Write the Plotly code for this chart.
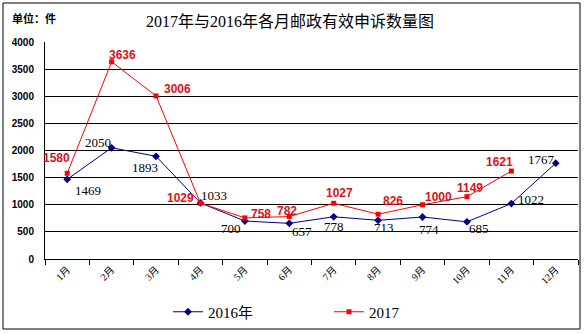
import plotly.graph_objects as go

months = ["1月", "2月", "3月", "4月", "5月", "6月", "7月", "8月", "9月", "10月", "11月", "12月"]
v2016 = [1469, 2050, 1893, 1033, 700, 657, 778, 713, 774, 685, 1022, 1767]
v2017 = [1580, 3636, 3006, 1029, 758, 782, 1027, 826, 1000, 1149, 1621]

# label offsets in pixels (dx right, dy down)
off2016 = [(21, 11), (-14, -5), (-11, 11), (14, -7), (-14, 7), (13, 8),
           (0, 10), (6, 7), (6, 12), (12, 7), (20, -4), (-14, -4)]
off2017 = [(-11, -15), (11, -7), (21, -7), (-20, -5), (16, -4), (-2, -6),
           (6, -10), (15, -13), (16, -8), (3, -9), (-12, -9)]

W, H = 584, 334
L, R, T, B = 45, 578, 42, 259
pw, ph = R - L, B - T

def px(x):
    return (x - L) / pw

def py(y):
    return (B - y) / ph

SERIF = "Liberation Serif, Noto Sans CJK SC, serif"
SANS = "Liberation Sans, Noto Sans CJK SC, sans-serif"

fig = go.Figure()
fig.add_trace(go.Scatter(
    x=months, y=v2016, name="2016年", mode="lines+markers",
    line=dict(color="#000080", width=1),
    marker=dict(symbol="diamond", size=6, color="#000080"),
))
fig.add_trace(go.Scatter(
    x=months[:len(v2017)], y=v2017, name="2017", mode="lines+markers",
    line=dict(color="#FF0000", width=1),
    marker=dict(symbol="square", size=5, color="#FF0000"),
))

ann = []
for m, v, (dx, dy) in zip(months, v2016, off2016):
    ann.append(dict(x=m, y=v, text=str(v), showarrow=False, xshift=dx, yshift=-dy,
                    font=dict(family=SERIF, size=13, color="black")))
for m, v, (dx, dy) in zip(months, v2017, off2017):
    ann.append(dict(x=m, y=v, text="<b>%d</b>" % v, showarrow=False, xshift=dx, yshift=-dy,
                    font=dict(family=SANS, size=12, color="#E01018")))
ann.append(dict(xref="paper", yref="paper", x=px(10), y=py(18), xanchor="left", yanchor="middle",
                text="<b>单位：件</b>", showarrow=False,
                font=dict(family=SANS, size=11, color="black")))
ann.append(dict(xref="paper", yref="paper", x=px(290), y=py(22), xanchor="center", yanchor="middle",
                text="2017年与2016年各月邮政有效申诉数量图", showarrow=False,
                font=dict(family=SERIF, size=16, color="black")))

fig.update_layout(
    width=W, height=H,
    margin=dict(l=L, r=W - R, t=T, b=H - B),
    paper_bgcolor="white", plot_bgcolor="white",
    annotations=ann,
    showlegend=True,
    legend=dict(orientation="h", x=px(168), y=py(312), xanchor="left", yanchor="middle",
                font=dict(family=SERIF, size=15, color="black"),
                entrywidth=116, entrywidthmode="pixels", itemwidth=30,
                bgcolor="rgba(0,0,0,0)"),
    shapes=[dict(type="rect", xref="paper", yref="paper",
                 x0=px(3), x1=px(580), y0=py(329), y1=py(3),
                 line=dict(color="black", width=1), fillcolor="rgba(0,0,0,0)", layer="below")],
)
fig.update_xaxes(
    type="category", categoryorder="array", categoryarray=months,
    range=[-0.5, 11.5], tickson="boundaries", ticks="outside", ticklen=5,
    tickcolor="black", showline=True, linecolor="black", linewidth=1,
    showgrid=False, tickangle=-45,
    tickfont=dict(family=SERIF, size=10, color="black"),
)
fig.update_yaxes(
    range=[0, 4000], dtick=500, showgrid=True, gridcolor="black", gridwidth=1,
    showline=True, linecolor="black", linewidth=1, zeroline=False,
    ticks="", ticklabelstandoff=8,
    tickfont=dict(family=SANS, size=10, color="black", weight="bold"),
)

fig.write_html("out.html")
